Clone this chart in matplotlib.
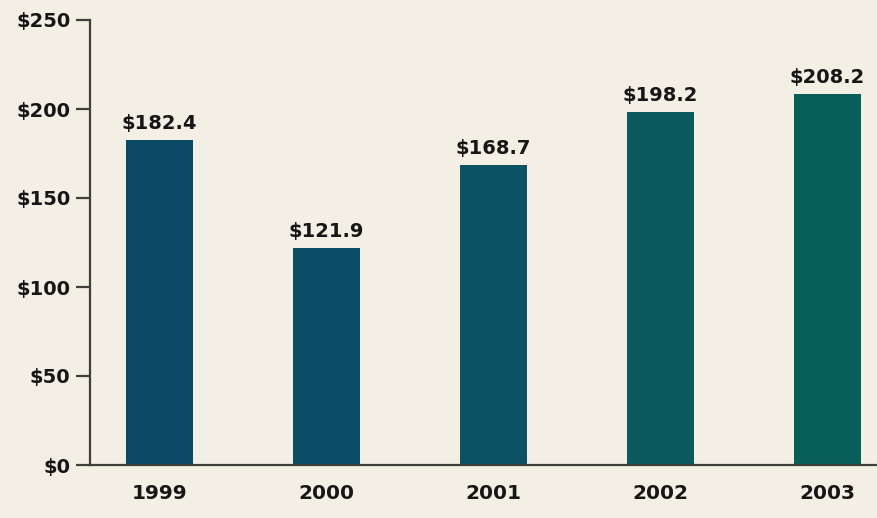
import matplotlib.pyplot as plt
import numpy as np

# yearly totals, in millions of dollars
years = ['1999', '2000', '2001', '2002', '2003']
totals = [182.4, 121.9, 168.7, 198.2, 208.2]
bar_colors = ['#0b4a66', '#0a4c66', '#0b5364', '#0b5a5f', '#085f5a']
y_ticks = [0, 50, 100, 150, 200, 250]

paper = '#f3efe4'
ink = '#161616'

plt.rcParams['font.family'] = 'DejaVu Sans'
plt.rcParams['font.weight'] = 'bold'

fig = plt.figure(figsize=(8.78, 5.18), dpi=100, facecolor=paper)
ax = fig.add_axes([90 / 878, 1 - 465 / 518, 788 / 878, 445 / 518])
ax.set_facecolor(paper)

x = np.arange(len(years))
ax.bar(x, totals, width=0.40, color=bar_colors, zorder=2)

for xi, v in zip(x, totals):
    ax.text(xi, v + 4.0, '${:.1f}'.format(v), ha='center', va='bottom',
            fontsize=14, fontweight='bold', color=ink)

ax.set_xlim(-0.416, 4.302)
ax.set_ylim(0, 250)
ax.set_yticks(y_ticks)
ax.set_yticklabels(['${}'.format(t) for t in y_ticks])
ax.set_xticks(x)
ax.set_xticklabels(years)

for s in ['top', 'right']:
    ax.spines[s].set_visible(False)
for s in ['left', 'bottom']:
    ax.spines[s].set_color('#3e3e3e')
    ax.spines[s].set_linewidth(1.6)

ax.tick_params(axis='y', length=10, width=1.6, color='#3e3e3e', pad=4,
               labelsize=14, labelcolor=ink)
ax.tick_params(axis='x', length=0, pad=14, labelsize=14.5, labelcolor=ink)
for lbl in ax.get_xticklabels() + ax.get_yticklabels():
    lbl.set_fontweight('bold')

plt.savefig('out.png', dpi=100, facecolor=paper)
